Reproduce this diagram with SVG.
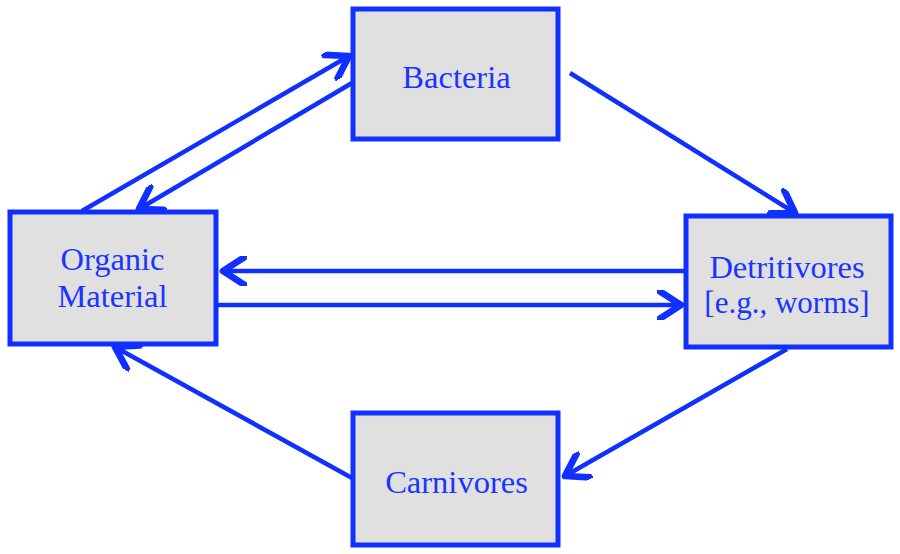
<svg xmlns="http://www.w3.org/2000/svg" width="900" height="554" viewBox="0 0 900 554">
<style>
.box{fill:#e0e0e0;stroke:#1030ff;stroke-width:5}
.lbl{font-family:"Liberation Serif","Times New Roman",serif;font-size:32.5px;fill:#1a35ff;text-anchor:middle}
.sm{font-size:31px}
.c{stroke:#1030ff;stroke-width:4.5;fill:none;marker-end:url(#ah)}
</style>
<defs>
<marker id="ah" markerUnits="userSpaceOnUse" markerWidth="30" markerHeight="30" refX="16" refY="10" orient="auto" viewBox="0 0 20 20">
<path d="M2,1 L16,10 L2,19" fill="none" stroke="#1030ff" stroke-width="4.5" stroke-linecap="round" stroke-linejoin="round"/>
</marker>
</defs>
<g id="connectors">
<line class="c" x1="82" y1="211" x2="349" y2="56"/>
<line class="c" x1="352" y1="83" x2="139" y2="209"/>
<line class="c" x1="570" y1="73" x2="795" y2="213"/>
<line class="c" x1="685" y1="271" x2="223" y2="271"/>
<line class="c" x1="217" y1="305" x2="681" y2="305"/>
<line class="c" x1="787" y1="349" x2="565" y2="476"/>
<line class="c" x1="352" y1="478" x2="115" y2="347"/>
</g>
<g id="bacteria">
<rect class="box" x="353" y="9" width="205" height="130"/>
<text class="lbl" x="456.5" y="88">Bacteria</text>
</g>
<g id="organic">
<rect class="box" x="10" y="212" width="206" height="132"/>
<text class="lbl" x="112.5" y="270">Organic</text>
<text class="lbl" x="112.5" y="307">Material</text>
</g>
<g id="detritivores">
<rect class="box" x="686" y="216" width="205" height="131"/>
<text class="lbl" x="787" y="278">Detritivores</text>
<text class="lbl sm" x="787" y="313">[e.g., worms]</text>
</g>
<g id="carnivores">
<rect class="box" x="353" y="413" width="205" height="132"/>
<text class="lbl" x="456.5" y="493">Carnivores</text>
</g>
</svg>
